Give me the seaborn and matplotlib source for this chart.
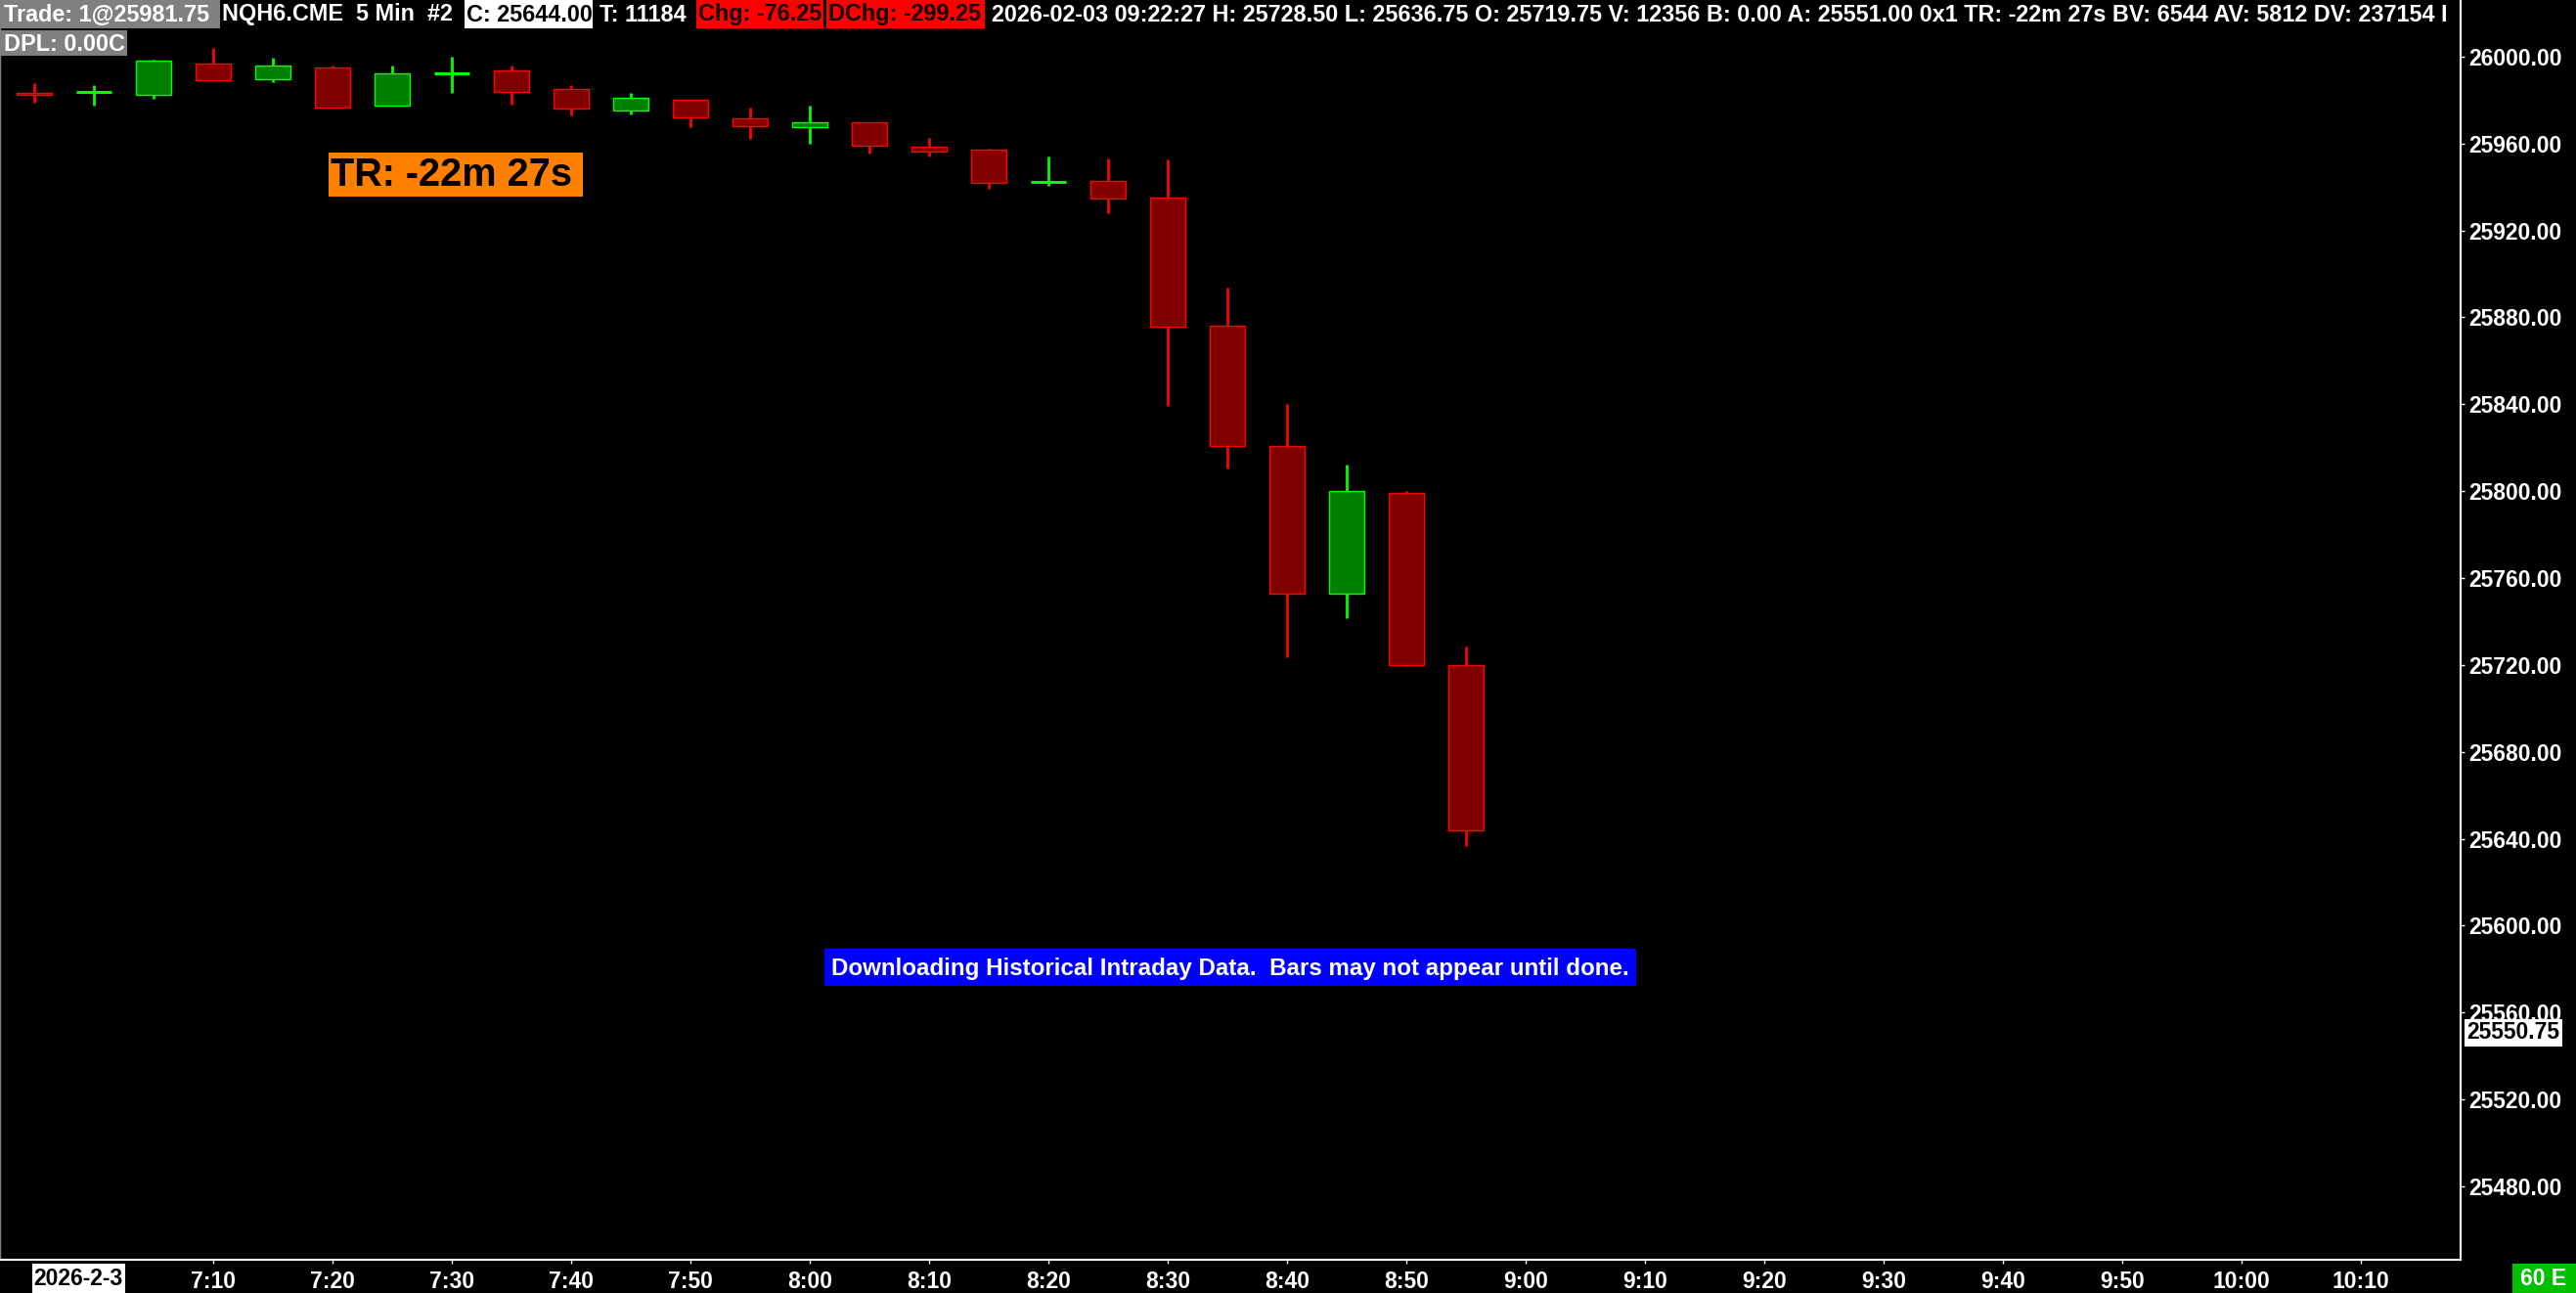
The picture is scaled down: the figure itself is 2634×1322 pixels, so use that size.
import numpy as np
import pandas as pd
import matplotlib
matplotlib.use("Agg")
import matplotlib.pyplot as plt
from matplotlib.patches import Rectangle
import seaborn as sns

# 5 min bars, NQH6
times = ["6:55", "7:00", "7:05", "7:10", "7:15", "7:20", "7:25", "7:30", "7:35",
         "7:40", "7:45", "7:50", "7:55", "8:00", "8:05", "8:10", "8:15", "8:20",
         "8:25", "8:30", "8:35", "8:40", "8:45", "8:50", "8:55"]
opens = [25983.25, 25983.75, 25982.50, 25996.75, 25989.75, 25995.00, 25977.25, 25992.50,
         25993.50, 25985.00, 25975.00, 25980.00, 25971.50, 25967.50, 25969.75, 25958.50,
         25957.00, 25942.50, 25943.00, 25935.00, 25876.00, 25820.75, 25752.75, 25799.00,
         25719.75]
highs = [25987.75, 25986.75, 25998.50, 26004.00, 25999.50, 25996.00, 25996.00, 26000.00,
         25996.00, 25987.00, 25983.25, 25980.25, 25976.50, 25977.50, 25969.75, 25962.50,
         25957.50, 25954.00, 25953.25, 25952.75, 25893.75, 25840.25, 25812.25, 25800.00,
         25728.50]
lows = [25978.75, 25977.50, 25980.50, 25989.25, 25988.50, 25976.75, 25977.25, 25983.25,
        25978.00, 25973.00, 25973.50, 25967.75, 25962.25, 25960.00, 25955.50, 25954.25,
        25939.25, 25940.50, 25928.00, 25839.25, 25810.50, 25723.75, 25741.50, 25719.50,
        25636.75]
closes = [25982.25, 25983.75, 25998.00, 25989.25, 25995.75, 25976.75, 25992.25, 25992.50,
          25984.00, 25976.00, 25981.00, 25972.00, 25968.00, 25970.00, 25959.00, 25956.50,
          25942.00, 25942.50, 25934.50, 25875.50, 25821.00, 25753.00, 25800.00, 25719.75,
          25644.00]

xtick_labels = ["7:10", "7:20", "7:30", "7:40", "7:50", "8:00", "8:10", "8:20", "8:30",
                "8:40", "8:50", "9:00", "9:10", "9:20", "9:30", "9:40", "9:50", "10:00",
                "10:10"]
ytick_values = [25480, 25520, 25560, 25600, 25640, 25680, 25720, 25760, 25800, 25840,
                25880, 25920, 25960, 26000]

header = "2026-02-03 09:22:27 H: 25728.50 L: 25636.75 O: 25719.75 V: 12356 B: 0.00 A: 25551.00 0x1 TR: -22m 27s BV: 6544 AV: 5812 DV: 237154 I"


def to_min(s):
    h, m = s.split(":")
    return int(h) * 60 + int(m)


df = pd.DataFrame({"time": times, "open": opens, "high": highs, "low": lows, "close": closes})
df["x"] = df["time"].apply(to_min)
df["up"] = df["close"] >= df["open"]

sns.set_theme(style="ticks", rc={"axes.facecolor": "black", "figure.facecolor": "black",
                                 "savefig.facecolor": "black"})
plt.rcParams["font.family"] = ["Liberation Sans", "DejaVu Sans"]
plt.rcParams["font.weight"] = "bold"

W, H = 2634, 1322
fig = plt.figure(figsize=(W / 100, H / 100), dpi=100)
ax = fig.add_axes([0, 34 / H, 2516 / W, 1 - 34 / H])

UP_FILL, UP_EDGE = "#008000", "#00FF00"
DN_FILL, DN_EDGE = "#800000", "#FF0000"
edge = np.where(df["up"], UP_EDGE, DN_EDGE)
fill = np.where(df["up"], UP_FILL, DN_FILL)

ax.vlines(df["x"], df["low"], df["high"], colors=edge, linewidth=2.0, zorder=2)
body = df[df["open"] != df["close"]]
bot = body[["open", "close"]].min(axis=1)
ax.bar(body["x"], (body["close"] - body["open"]).abs(), bottom=bot, width=3.0,
       color=fill[body.index], edgecolor=edge[body.index], linewidth=1.0, zorder=3)
doji = df[df["open"] == df["close"]]
ax.hlines(doji["close"], doji["x"] - 1.5, doji["x"] + 1.5, colors=edge[doji.index],
          linewidth=2.2, zorder=3)

ax.set_xlim(412.13, 618.36)
ax.set_ylim(25446.2, 26026.1)
ax.set_xticks([to_min(t) for t in xtick_labels])
ax.set_xticklabels(xtick_labels)
ax.set_yticks(ytick_values)
ax.set_yticklabels([f"{v:.2f}" for v in ytick_values])
ax.yaxis.tick_right()
ax.tick_params(axis="both", colors="white", labelcolor="white", length=3, width=1)
ax.tick_params(axis="x", pad=5, labelsize=16.5)
ax.tick_params(axis="y", pad=3, labelsize=16.5)
for lab in ax.get_xticklabels() + ax.get_yticklabels():
    lab.set_fontweight("bold")
ax.spines["top"].set_visible(False)
ax.spines["left"].set_color("#808080")
ax.spines["left"].set_linewidth(1.0)
for side in ["right", "bottom"]:
    ax.spines[side].set_color("white")
    ax.spines[side].set_linewidth(1.5)
ax.grid(False)


def box(x0, y0, x1, y1, color):
    fig.add_artist(Rectangle((x0 / W, 1 - y1 / H), (x1 - x0) / W, (y1 - y0) / H,
                             transform=fig.transFigure, facecolor=color,
                             edgecolor="none", zorder=5))


def label(x, y, s, color="white", size=16.8, ha="left"):
    fig.text(x / W, 1 - y / H, s, color=color, fontsize=size, fontweight="bold",
             ha=ha, va="center", zorder=6)


# header line
box(0, 0, 225, 29, "#808080")
label(4, 15, "Trade: 1@25981.75")
label(227, 15, "NQH6.CME  5 Min  #2")
box(475, 0, 606, 29, "white")
label(477, 15, "C: 25644.00", color="black")
label(613, 15, "T: 11184")
box(712, 0, 842, 29, "#FF0000")
label(714, 15, "Chg: -76.25", color="#100000")
box(845, 0, 1007, 29, "#FF0000")
label(847, 15, "DChg: -299.25", color="#100000")
label(1014, 15, header)
box(0, 31, 130, 57, "#808080")
label(4, 45, "DPL: 0.00C")

# time remaining
box(336, 156, 596, 201, "#FF8000")
label(338, 179, "TR: -22m 27s", color="black", size=28.5)

# status message
box(843, 970, 1673, 1008, "#0000FF")
label(1258, 990, "Downloading Historical Intraday Data.  Bars may not appear until done.",
      size=17.4, ha="center")

# price marker, date, timer
box(2520, 1042, 2620, 1070, "white")
label(2522, 1056, "25550.75", color="black", size=16.5)
box(33, 1292, 128, 1322, "white")
label(80, 1307, "2026-2-3", color="black", size=16.5, ha="center")
box(2569, 1292, 2634, 1322, "#00C000")
label(2601, 1307, "60 E", size=16.5, ha="center")

fig.savefig("out.png", dpi=100, facecolor="black")
